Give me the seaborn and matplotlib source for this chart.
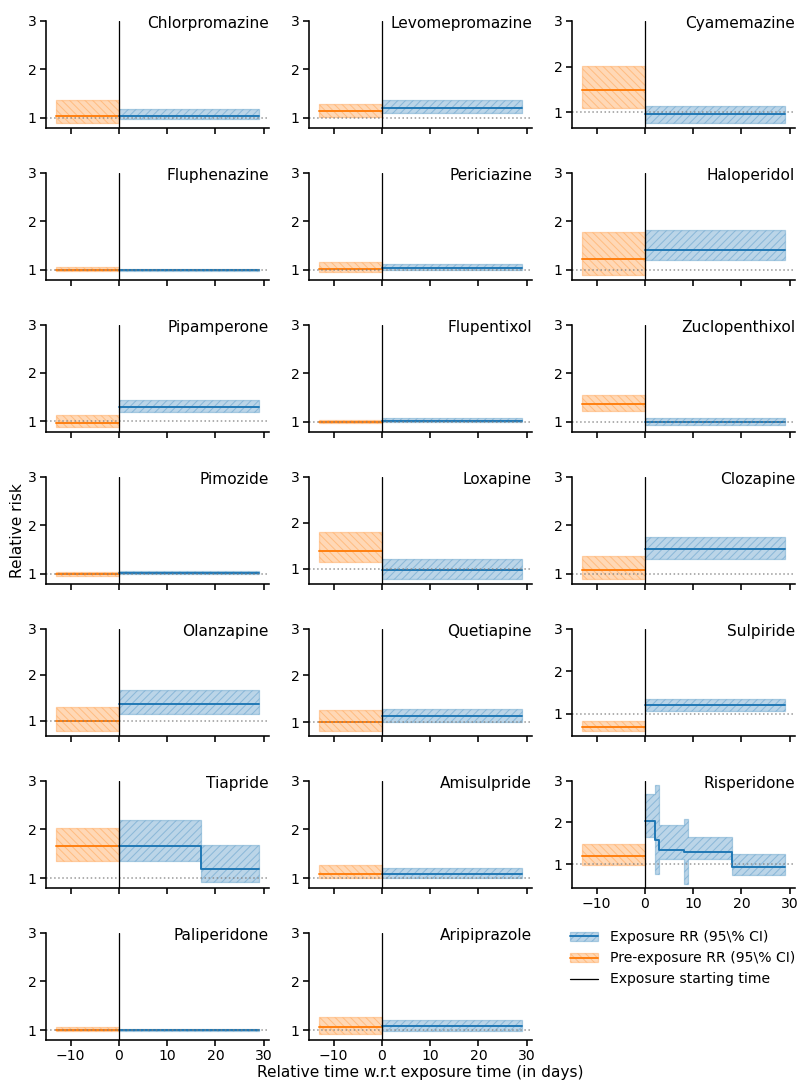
import matplotlib
matplotlib.use('Agg')
import matplotlib.pyplot as plt
from matplotlib.patches import Patch
from matplotlib.lines import Line2D
import seaborn as sns

# Relative risk before and during exposure, one panel per drug
drugs = ['Chlorpromazine', 'Levomepromazine', 'Cyamemazine', 'Fluphenazine',
         'Periciazine', 'Haloperidol', 'Pipamperone', 'Flupentixol',
         'Zuclopenthixol', 'Pimozide', 'Loxapine', 'Clozapine', 'Olanzapine',
         'Quetiapine', 'Sulpiride', 'Tiapride', 'Amisulpride', 'Risperidone',
         'Paliperidone', 'Aripiprazole']

# pre-exposure window (days)
pre_window = [-13, 0]
pre_rr = [1.04, 1.14, 1.49, 1.00, 1.01, 1.23, 0.97, 0.99, 1.37, 0.99,
          1.39, 1.07, 1.00, 1.01, 0.68, 1.66, 1.08, 1.19, 1.00, 1.07]
pre_lo = [0.90, 1.01, 1.09, 0.97, 0.95, 0.90, 0.88, 0.97, 1.22, 0.96,
          1.14, 0.89, 0.77, 0.81, 0.58, 1.36, 1.00, 0.98, 0.98, 0.92]
pre_hi = [1.36, 1.29, 2.01, 1.055, 1.17, 1.77, 1.13, 1.05, 1.56, 1.035,
          1.80, 1.37, 1.29, 1.25, 0.83, 2.02, 1.27, 1.47, 1.055, 1.26]

# exposure windows (days); most drugs have one window
default_breaks = [0, 29]
exp_breaks = {'Tiapride': [0, 17, 29],
              'Risperidone': [0, 2, 3, 8, 9, 18, 29]}
exp_rr = [[1.04], [1.21], [0.96], [1.00], [1.04], [1.41], [1.30], [1.02],
          [0.99], [1.01], [0.96], [1.51], [1.37], [1.14], [1.20],
          [1.66, 1.19], [1.08], [2.04, 1.58, 1.34, 1.30, 1.30, 0.94],
          [1.00], [1.09]]
exp_lo = [[0.98], [1.10], [0.77], [0.98], [0.99], [1.20], [1.18], [0.99],
          [0.94], [0.99], [0.77], [1.31], [1.15], [1.01], [1.06],
          [1.36, 0.91], [1.00], [1.66, 0.76, 1.12, 0.53, 1.12, 0.73],
          [0.98], [0.99]]
exp_hi = [[1.18], [1.37], [1.15], [1.01], [1.13], [1.82], [1.44], [1.08],
          [1.08], [1.06], [1.20], [1.76], [1.66], [1.29], [1.34],
          [2.20, 1.68], [1.20], [2.69, 2.90, 1.94, 2.07, 1.64, 1.24],
          [1.02], [1.20]]

blue = '#1f77b4'
orange = '#ff7f0e'

sns.set_theme(context='notebook', style='ticks')
plt.rcParams['font.family'] = ['DejaVu Sans']
plt.rcParams.update({'text.color': 'black', 'axes.labelcolor': 'black',
                     'xtick.color': 'black', 'ytick.color': 'black',
                     'axes.edgecolor': 'black', 'xtick.major.size': 5,
                     'ytick.major.size': 5, 'xtick.major.pad': 2.5,
                     'ytick.major.pad': 2.5, 'hatch.linewidth': 0.8})

fig, axes = plt.subplots(7, 3, figsize=(799 / 92, 1082 / 92), dpi=92)
fig.subplots_adjust(left=0.0576, right=0.995, top=0.981, bottom=0.039,
                    hspace=0.42, wspace=0.18)
axes = axes.flatten()

for i, name in enumerate(drugs):
    ax = axes[i]
    # pre-exposure
    xs = pre_window
    ax.fill_between(xs, [pre_lo[i]] * 2, [pre_hi[i]] * 2, color=orange,
                    alpha=0.3, hatch='\\\\\\\\', linewidth=1)
    sns.lineplot(x=xs, y=[pre_rr[i]] * 2, color=orange, ax=ax, lw=1.5,
                 errorbar=None)
    # exposure
    br = exp_breaks.get(name, default_breaks)
    lo = exp_lo[i] + [exp_lo[i][-1]]
    hi = exp_hi[i] + [exp_hi[i][-1]]
    rr = exp_rr[i] + [exp_rr[i][-1]]
    ax.fill_between(br, lo, hi, step='post', color=blue, alpha=0.3,
                    hatch='////', linewidth=1)
    sns.lineplot(x=br, y=rr, color=blue, ax=ax, lw=1.5, errorbar=None,
                 drawstyle='steps-post')
    ax.axhline(1, color='gray', ls=':', lw=1.2, alpha=0.8)
    ax.axvline(0, color='black', lw=1.0)

    low = min(pre_lo[i], min(exp_lo[i]))
    ax.set_ylim(min(0.8, low - 0.1), 3)
    ax.set_xlim(-15.1, 31.1)
    ax.set_yticks([1, 2, 3])
    ax.set_xticks([-10, 0, 10, 20, 30])
    ax.text(1.0, 0.935, name, ha='right', va='baseline',
            transform=ax.transAxes, fontsize=12)
    if i not in (17, 18, 19):
        ax.set_xticklabels([])
    sns.despine(ax=ax)

axes[9].set_ylabel('Relative risk', labelpad=2)
axes[19].set_xlabel('Relative time w.r.t exposure time (in days)',
                    labelpad=1)

# legend panel
lax = axes[20]
lax.axis('off')
handles = [
    (Patch(facecolor=blue, edgecolor=blue, alpha=0.3, hatch='////'),
     Line2D([], [], color=blue, lw=1.5)),
    (Patch(facecolor=orange, edgecolor=orange, alpha=0.3, hatch='\\\\\\\\'),
     Line2D([], [], color=orange, lw=1.5)),
    Line2D([], [], color='black', lw=1.0),
]
labels = ['Exposure RR (95\\% CI)', 'Pre-exposure RR (95\\% CI)',
          'Exposure starting time']
lax.legend(handles, labels, loc='upper left', bbox_to_anchor=(-0.065, 1.14),
           frameon=False, fontsize=11)

plt.savefig('out.png', dpi=92)
